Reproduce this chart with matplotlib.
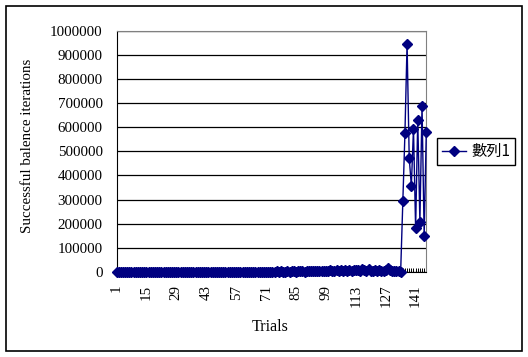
import matplotlib
matplotlib.use("Agg")
import matplotlib.pyplot as plt
from matplotlib.patches import Rectangle

# trial numbers and balance counts
trials = list(range(1, 147))
early = [9, 14, 22, 11, 31, 18, 45, 27, 13, 52, 38, 61, 24, 73, 47, 35, 88, 56, 102, 64,
         41, 117, 93, 58, 136, 79, 152, 110, 67, 184, 125, 91, 203, 147, 238, 162, 119, 274, 198, 311,
         226, 170, 352, 289, 407, 241, 468, 335, 520, 296, 611, 388, 702, 455, 534, 817, 392, 936, 612, 1048,
         507, 1183, 744, 1320, 866, 612, 1475, 980, 1618, 1107, 793, 1802, 1246, 2015, 938, 2230, 1412, 2487, 1605, 1120,
         2716, 1830, 3004, 2095, 1488, 3321, 2360, 3650, 1790, 4012, 2715, 4408, 3088, 2206, 4870, 3462, 5315, 2630, 5840, 3910,
         6402, 4475, 3120, 7050, 5036, 7720, 3684, 8460, 5810, 9280, 4350, 6720, 10150, 7480, 5120, 11300, 8260, 6050, 12600, 4900,
         3200, 7400, 2600, 9800, 4100, 6200, 8800, 18500, 7200, 3900, 5100, 2400, 4300, 1800]
spike = [293000, 575000, 946000, 474000, 357000, 593000, 181000, 631000, 206000, 689000, 151000, 582000]
iterations = early + spike

yticks = list(range(0, 1000001, 100000))
xlabels_at = list(range(1, 147, 14))

W, H = 528, 357
fig = plt.figure(figsize=(W / 100, H / 100), dpi=100)
ax = fig.add_axes([116.5 / W, (H - 272) / H, 309.8 / W, 241.3 / H])

ax.plot(trials, iterations, color='#000080', lw=1, marker='D', ms=4.8,
        mec='#000080', mfc='#000080', clip_on=False, zorder=3, label='數列1')

ax.set_xlim(1, 146)
ax.set_ylim(0, 1000000)
ax.set_yticks(yticks)
ax.set_yticklabels([str(v) for v in yticks])
ax.set_xticks(trials)
ax.set_xticklabels([str(t) if t in xlabels_at else '' for t in trials], rotation=90)

ax.yaxis.grid(True, color='black', lw=0.9)
ax.set_axisbelow(True)
ax.tick_params(axis='y', length=0, pad=10, labelsize=10.8)
ax.tick_params(axis='x', direction='in', length=3, width=0.7, pad=9, labelsize=10.8)
for lab in ax.get_xticklabels() + ax.get_yticklabels():
    lab.set_family('Liberation Serif')

ax.spines['top'].set_color('#808080')
ax.spines['right'].set_color('#808080')
ax.spines['left'].set_color('black')
ax.spines['bottom'].set_color('black')

ax.set_xlabel('Trials', family='Liberation Serif', fontsize=11.5)
ax.set_ylabel('Successful balence iterations', family='Liberation Serif', fontsize=10.8)
ax.xaxis.set_label_coords(0.4955, -0.227)
ax.xaxis.label.set_va('center')
ax.yaxis.set_label_coords(-0.2857, 0.522)
ax.yaxis.label.set_va('center')

leg = fig.legend(loc='center left', bbox_to_anchor=(437 / W, 1 - 151.5 / H),
                 prop={'family': ['Noto Sans CJK TC', 'DejaVu Sans'], 'size': 11},
                 fancybox=False, framealpha=1, edgecolor='black',
                 handlelength=1.6, handletextpad=0.35, borderpad=0.3, borderaxespad=0)
leg.get_frame().set_linewidth(1)

fig.patches.append(Rectangle((5.5 / W, 1 - 351 / H), 516 / W, 345.5 / H,
                             transform=fig.transFigure, fill=False,
                             edgecolor='black', lw=1.2))

fig.savefig('out.png', dpi=100)
